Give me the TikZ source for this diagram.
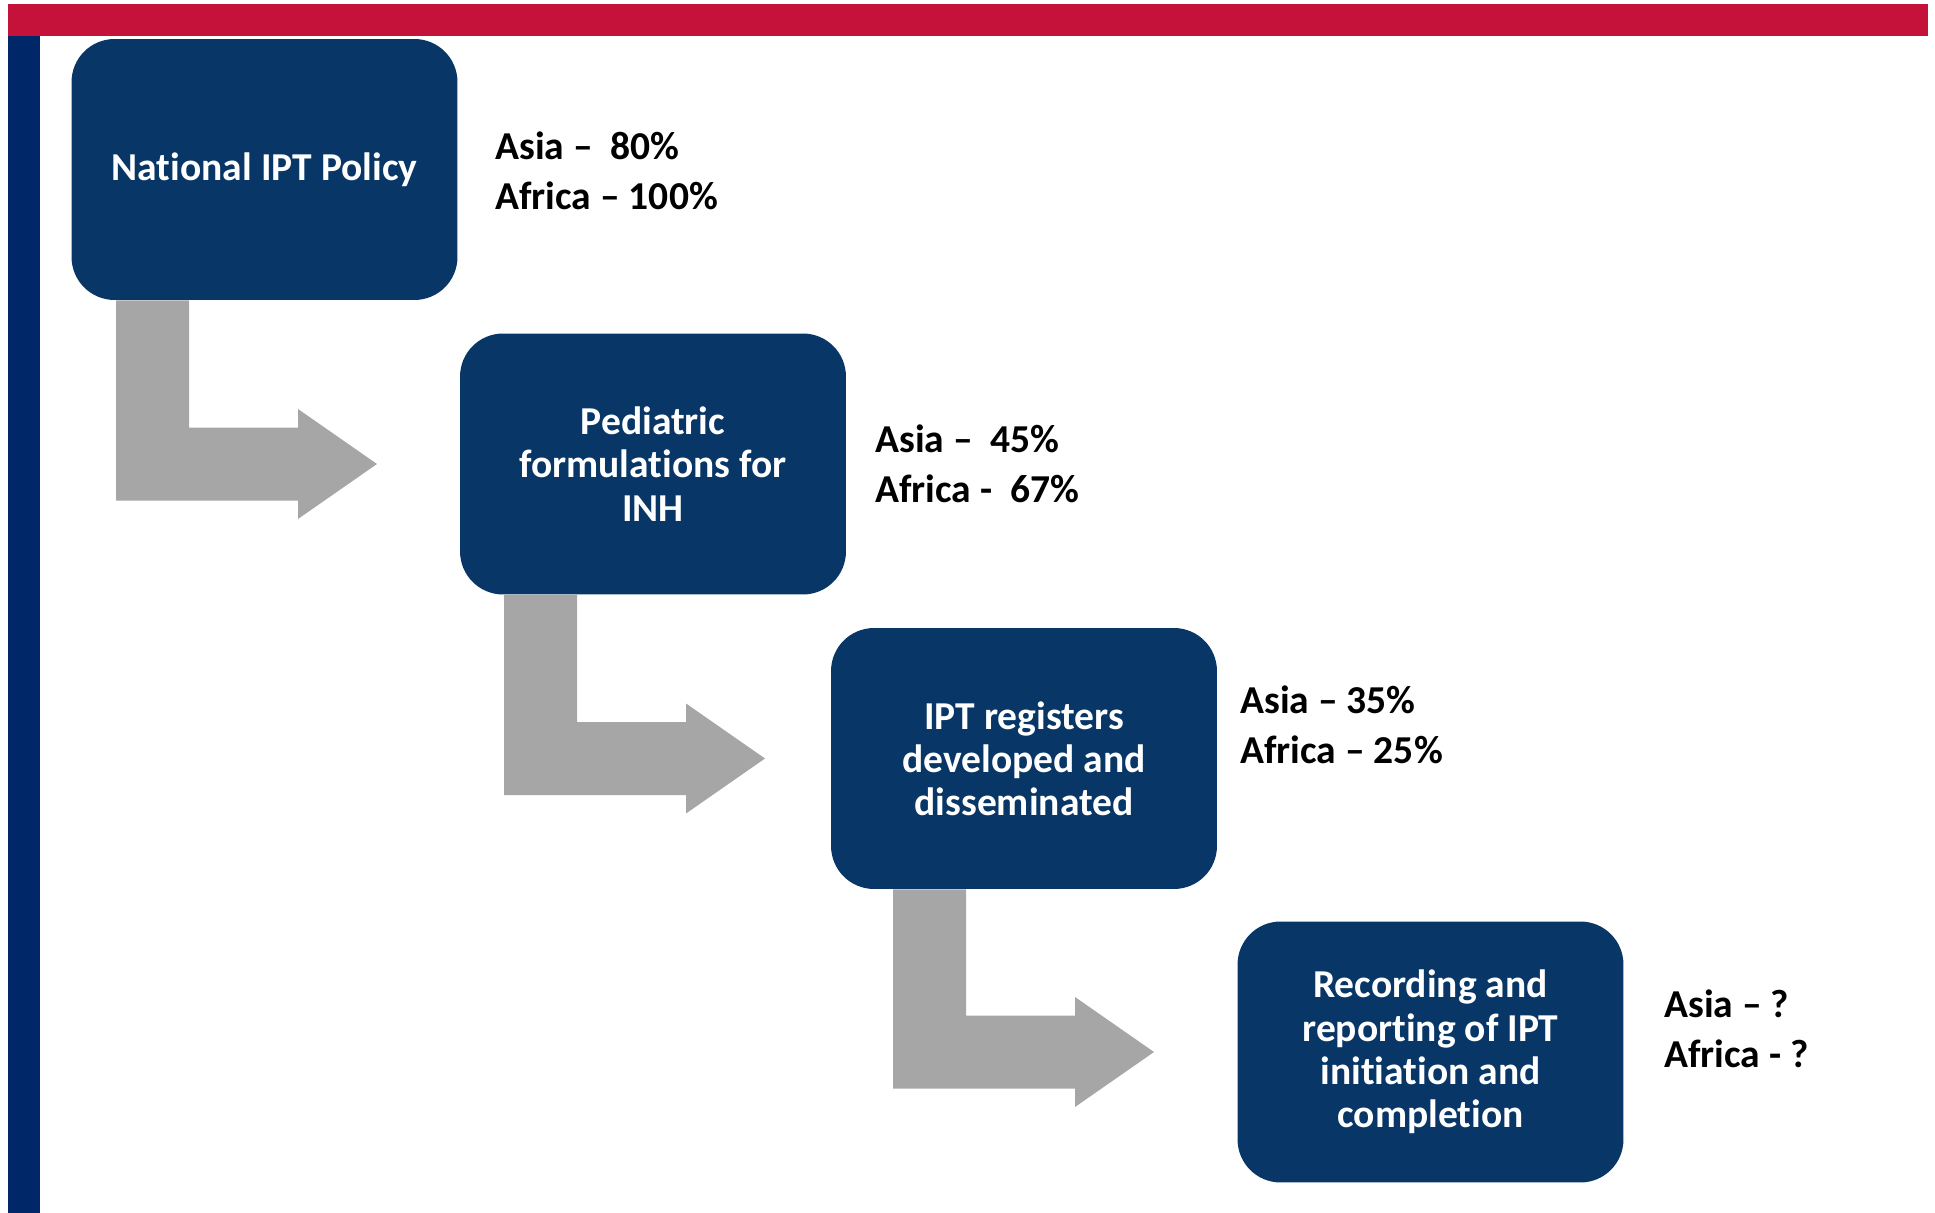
\documentclass[tikz,border=0pt]{standalone}
\usepackage{fontspec}
\setmainfont{Carlito}[Ligatures={TeX,NoCommon}]
\usepackage{xcolor}
\usepackage{tikz}
\usetikzlibrary{positioning, calc}
\definecolor{slidered}{RGB}{196,18,58}
\definecolor{slideblue}{RGB}{0,40,104}
\definecolor{stepblue}{RGB}{8,54,102}
\definecolor{bendgray}{RGB}{166,166,166}

\begin{document}
\begin{tikzpicture}[
  x=0.02cm, y=-0.02cm,
  stepbox/.style={fill=stepblue, rounded corners=0.86cm,
                  minimum width=7.72cm, minimum height=5.22cm, inner sep=0pt,
                  text=white, align=center,
                  font=\fontsize{22.5}{24.6}\selectfont\bfseries},
  share/.style={anchor=west, align=left, inner sep=0pt,
                font=\fontsize{22.5}{28.2}\selectfont\bfseries},
  bentarrow/.style={fill=bendgray},
]
\useasboundingbox (0,0) rectangle (1935,1213);

% slide frame
\fill[slidered] (8,4) rectangle (1928,36);
\fill[slideblue] (8,36) rectangle (40,1213);

% steps
\node[stepbox] (p1) at (264.5,169.5) {National IPT Policy};
\node[stepbox] (p2) at (653,464) {Pediatric\\formulations for\\INH};
\node[stepbox] (p3) at (1024,758.5) {IPT registers\\developed and\\disseminated};
\node[stepbox] (p4) at (1430.5,1052) {Recording and\\reporting of IPT\\initiation and\\completion};

% coverage
\node[share] (s1) at (495,171) {Asia –~ 80\%\\Africa – 100\%};
\node[share] (s2) at (875,464) {Asia –~ 45\%\\Africa -~ 67\%};
\node[share] (s3) at (1240,725) {Asia – 35\%\\Africa – 25\%};
\node[share] (s4) at (1664,1029) {Asia – ?\\Africa - ?};

% bent arrows
\foreach \from/\to/\sx in {p1/p2/116, p2/p3/504, p3/p4/893}
  \fill[bentarrow] (\sx,0 |- \from.south) -- ({\sx+73},0 |- \from.south)
    -- ($({\sx+73},0 |- \to.west)+(0,-36.5)$)
    -- ($({\sx+182},0 |- \to.west)+(0,-36.5)$)
    -- ($({\sx+182},0 |- \to.west)+(0,-55)$)
    -- ({\sx+261},0 |- \to.west)
    -- ($({\sx+182},0 |- \to.west)+(0,55)$)
    -- ($({\sx+182},0 |- \to.west)+(0,36.5)$)
    -- ($(\sx,0 |- \to.west)+(0,36.5)$) -- cycle;

\end{tikzpicture}
\end{document}
